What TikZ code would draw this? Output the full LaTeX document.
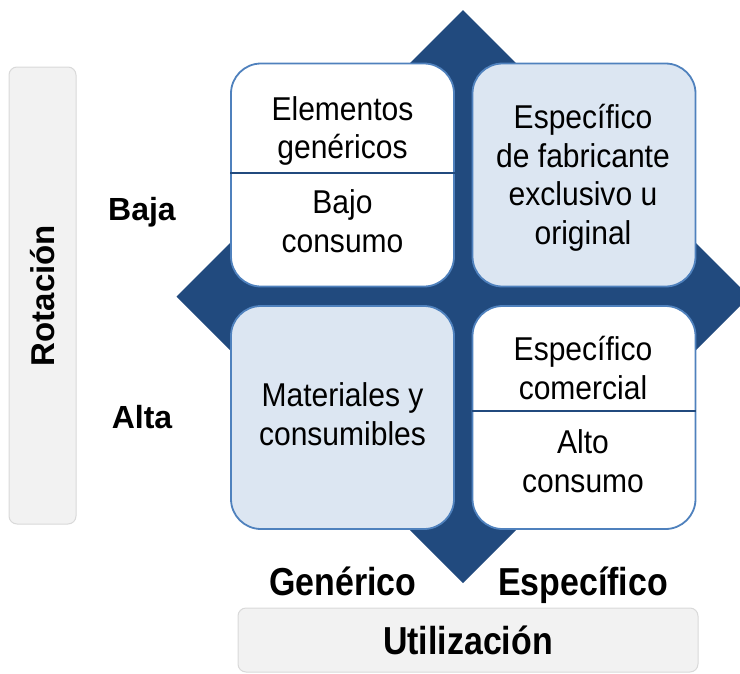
\documentclass[tikz,border=0pt]{standalone}
\usepackage{fontspec}
\setmainfont{Liberation Sans}
\newfontfamily\narrowfont{Liberation Sans}[FakeStretch=0.91]
\newfontfamily\labelfont{Liberation Sans}[FakeStretch=0.87]

\definecolor{diamondblue}{RGB}{33,74,126}
\definecolor{boxline}{RGB}{79,129,189}
\definecolor{boxfill}{RGB}{220,230,242}
\definecolor{grayfill}{RGB}{242,242,242}
\definecolor{grayline}{RGB}{217,217,217}

\begin{document}
\begin{tikzpicture}[x=1pt, y=-1pt,
    quad/.style={draw=boxline, line width=1.8pt, rounded corners=30pt,
        minimum width=223pt, minimum height=223pt},
    boxtext/.style={align=center, font=\narrowfont\fontsize{33}{38.5}\selectfont},
    axislabel/.style={anchor=base, font=\bfseries\fontsize{32}{38}\selectfont},
    biglabel/.style={anchor=base, font=\labelfont\bfseries\fontsize{39}{45}\selectfont},
    graybox/.style={draw=grayline, fill=grayfill, line width=1pt, rounded corners=8pt},
    divider/.style={draw=diamondblue, line width=2.5pt}]

    \useasboundingbox (0,0) rectangle (740,673);
    \clip (0,0) rectangle (740,673);

    % diamond behind the matrix
    \fill[diamondblue] (463,10) -- (749.5,296.5) -- (463,583) -- (176.5,296.5) -- cycle;

    % the four quadrants
    \node[quad, fill=white]   (tl) at (342.5,175) {};
    \node[quad, fill=boxfill] (tr) at (584,175) {};
    \node[quad, fill=boxfill] (bl) at (342.5,417.5) {};
    \node[quad, fill=white]   (br) at (584,417.5) {};

    \draw[divider] ([yshift=2pt]tl.west) -- ([yshift=2pt]tl.east);
    \draw[divider] ([yshift=6.5pt]br.west) -- ([yshift=6.5pt]br.east);

    \node[boxtext] (tlup)  at (342.5,131) {Elementos\\genéricos};
    \node[boxtext] (tllow) at (342.5,221) {Bajo\\consumo};
    \node[boxtext] (trtxt) at (583,178) {Específico\\de fabricante\\exclusivo u\\original};
    \node[boxtext] (bltxt) at (342.5,414) {Materiales y\\consumibles};
    \node[boxtext] (brup)  at (583,368) {Específico\\comercial};
    \node[boxtext] (brlow) at (583,461) {Alto\\consumo};

    % axes
    \node[graybox, rotate=90, minimum width=457pt, minimum height=67pt,
        font=\bfseries\fontsize{33}{38}\selectfont] (rot) at (42.5,295.5) {Rotación};
    \node[graybox, minimum width=460pt, minimum height=64pt, inner ysep=0pt,
        font=\labelfont\bfseries\fontsize{39}{45}\selectfont] (util) at (468,640) {Utilización};

    \node[axislabel] (baja) at (142,220) {Baja};
    \node[axislabel] (alta) at (142,428) {Alta};
    \node[biglabel]  (gen)  at (343,595) {Genérico};
    \node[biglabel]  (esp)  at (583,595) {Específico};

\end{tikzpicture}
\end{document}
